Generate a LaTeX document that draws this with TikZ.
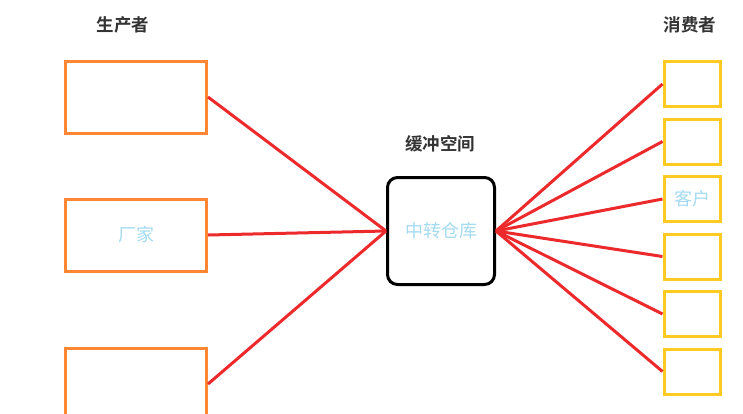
\documentclass[tikz,border=0pt]{standalone}
\usepackage{fontspec}
\newfontfamily\cjk[BoldFont={Noto Sans CJK SC Bold}]{Noto Sans CJK SC}
\usepackage{tikz}
\usetikzlibrary{positioning}

\definecolor{boxOrange}{HTML}{FF8633}
\definecolor{boxYellow}{HTML}{FFCB22}
\definecolor{lineRed}{HTML}{EC2A2C}
\definecolor{textBlue}{HTML}{A3DAF0}
\definecolor{titleGray}{HTML}{333333}

\begin{document}
\begin{tikzpicture}[
    x=1pt, y=-1pt,
    producerNode/.style={rectangle, draw=boxOrange, line width=3pt, minimum width=141pt, minimum height=72pt, inner sep=0pt, font=\cjk\fontsize{18}{18}\selectfont, text=textBlue},
    consumerNode/.style={rectangle, draw=boxYellow, line width=3pt, minimum width=56pt, minimum height=45pt, inner sep=0pt, font=\cjk\fontsize{18}{18}\selectfont, text=textBlue},
    hubNode/.style={rectangle, draw=black, line width=3pt, rounded corners=10pt, minimum width=107pt, minimum height=107pt, inner sep=0pt, font=\cjk\fontsize{18}{18}\selectfont, text=textBlue},
    titleText/.style={font=\cjk\bfseries\fontsize{17.5}{17.5}\selectfont, text=titleGray},
    flowLine/.style={draw=lineRed, line width=3pt}
]

\clip (0,0) rectangle (743,413);

% ================= PRODUCERS =================
\node[producerNode] (prodA) at (136,97) {};
\node[producerNode, below=63pt of prodA] (prodB) {厂家};
\node[producerNode, below=74pt of prodB] (prodC) {};
\node[titleText] (prodTitle) at (123,25) {生产者};

% ================= BUFFER =================
\node[hubNode] (hub) at (441,231) {中转仓库};
\node[titleText] (hubTitle) at (440,144) {缓冲空间};

% ================= CONSUMERS =================
\node[consumerNode] (consA) at (692,84) {};
\node[consumerNode, below=9.5pt of consA] (consB) {};
\node[consumerNode, below=9.5pt of consB] (consC) {客户};
\node[consumerNode, below=9.5pt of consC] (consD) {};
\node[consumerNode, below=9.5pt of consD] (consE) {};
\node[consumerNode, below=9.5pt of consE] (consF) {};
\node[titleText] (consTitle) at (690,25) {消费者};

% ================= LINKS =================
\foreach \p in {prodA,prodB,prodC}
    \draw[flowLine] (\p.east) -- (hub.west);
\foreach \c in {consA,consB,consC,consD,consE,consF}
    \draw[flowLine] (hub.east) -- (\c.west);

\end{tikzpicture}
\end{document}
